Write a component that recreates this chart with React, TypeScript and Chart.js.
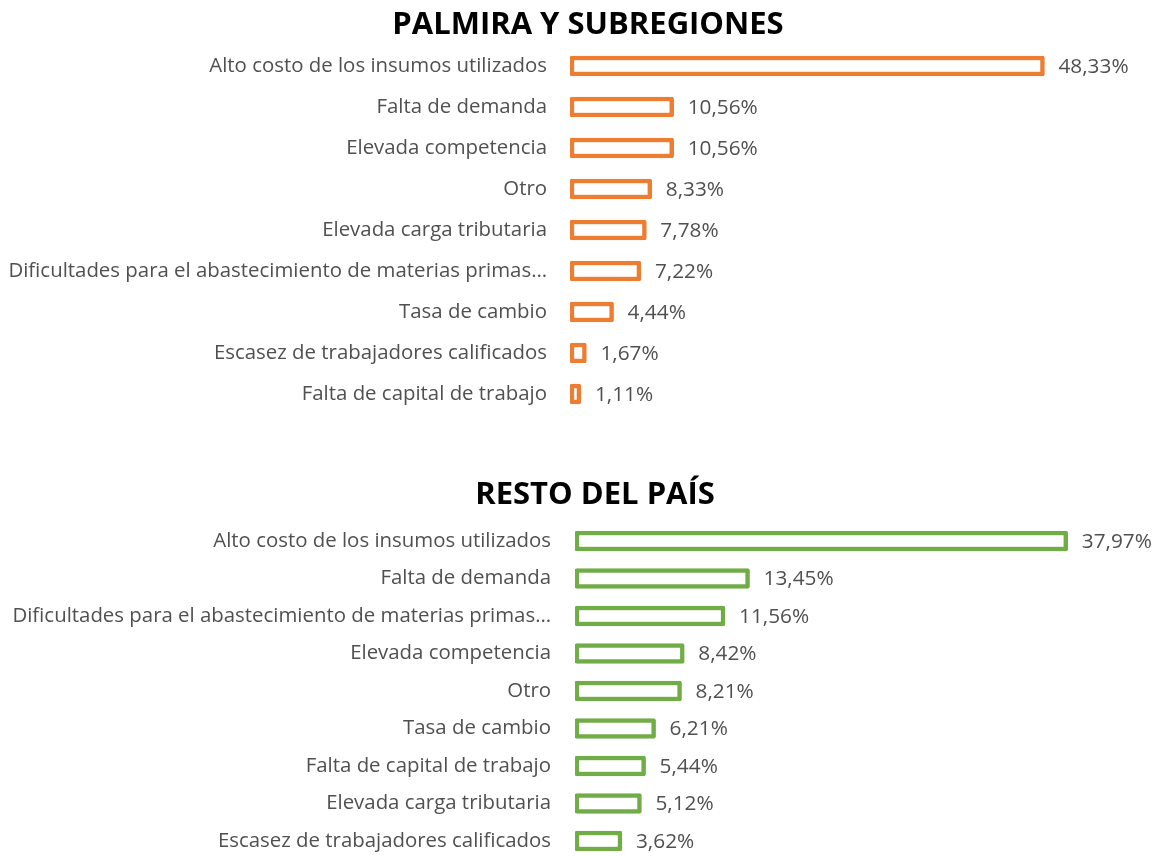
import React, { useEffect, useRef } from "react";
import { Chart, registerables } from "chart.js";

Chart.register(...registerables);

const palmiraTitle = "PALMIRA Y SUBREGIONES";
const palmiraCategories = [
  "Alto costo de los insumos utilizados",
  "Falta de demanda",
  "Elevada competencia",
  "Otro",
  "Elevada carga tributaria",
  "Dificultades para el abastecimiento de materias primas…",
  "Tasa de cambio",
  "Escasez de trabajadores calificados",
  "Falta de capital de trabajo",
];
const palmiraValues = [48.33, 10.56, 10.56, 8.33, 7.78, 7.22, 4.44, 1.67, 1.11];

const restoTitle = "RESTO DEL PAÍS";
const restoCategories = [
  "Alto costo de los insumos utilizados",
  "Falta de demanda",
  "Dificultades para el abastecimiento de materias primas…",
  "Elevada competencia",
  "Otro",
  "Tasa de cambio",
  "Falta de capital de trabajo",
  "Elevada carga tributaria",
  "Escasez de trabajadores calificados",
];
const restoValues = [37.97, 13.45, 11.56, 8.42, 8.21, 6.21, 5.44, 5.12, 3.62];

const FONT = "'Open Sans', sans-serif";
const LABEL_SIZE = 20.4;
const VALUE_SIZE = 20.8;
const TITLE_SIZE = 31;
const TEXT = "#505050";

const fmt = (v: number) => v.toFixed(2).replace(".", ",") + "%";

const labelPlugin = {
  id: "barLabels",
  afterDatasetsDraw(chart: any) {
    const ctx = chart.ctx;
    const meta = chart.getDatasetMeta(0);
    const data = chart.data.datasets[0].data as number[];
    ctx.save();
    ctx.font = `${VALUE_SIZE}px ${FONT}`;
    ctx.fillStyle = TEXT;
    ctx.textAlign = "left";
    ctx.textBaseline = "middle";
    meta.data.forEach((bar: any, i: number) => {
      ctx.fillText(fmt(data[i]), bar.x + 14, bar.y + 1);
    });
    ctx.restore();
  },
};

const titlePlugin = {
  id: "panelTitle",
  afterDraw(chart: any, _args: any, opts: any) {
    const ctx = chart.ctx;
    ctx.save();
    ctx.font = `bold ${TITLE_SIZE}px ${FONT}`;
    ctx.fillStyle = "#000000";
    ctx.textAlign = "center";
    ctx.textBaseline = "alphabetic";
    ctx.fillText(opts.text, opts.x, opts.y);
    ctx.restore();
  },
};

type Props = {
  title: string;
  titleX: number;
  titleBaseline: number;
  categories: string[];
  values: number[];
  color: string;
  xMax: number;
  left: number;
  padTop: number;
  padBottom: number;
  labelPad: number;
  top: number;
  height: number;
};

function Panel(props: Props) {
  const ref = useRef<HTMLCanvasElement | null>(null);
  useEffect(() => {
    if (!ref.current) return;
    const p = props;
    const chart = new Chart(ref.current, {
      type: "bar",
      data: {
        labels: p.categories,
        datasets: [
          {
            data: p.values,
            backgroundColor: "#ffffff",
            borderColor: p.color,
            borderWidth: 4.5,
            borderRadius: 2,
            borderSkipped: false,
            barThickness: 20,
          },
        ],
      },
      options: {
        indexAxis: "y",
        animation: false,
        responsive: false,
        maintainAspectRatio: false,
        layout: { padding: { top: p.padTop, bottom: p.padBottom, left: 0, right: 0 } },
        plugins: {
          legend: { display: false },
          tooltip: { enabled: false },
          title: { display: false },
          panelTitle: { text: p.title, x: p.titleX, y: p.titleBaseline },
        } as any,
        scales: {
          x: { display: false, min: 0, max: p.xMax },
          y: {
            grid: { display: false, drawTicks: true, tickLength: p.labelPad },
            border: { display: false },
            ticks: {
              color: TEXT,
              font: { family: FONT, size: LABEL_SIZE },
              padding: 0,
              autoSkip: false,
            },
            afterFit: (scale: any) => {
              scale.width = p.left;
            },
          },
        },
      },
      plugins: [labelPlugin, titlePlugin],
    });
    return () => chart.destroy();
  }, []);
  return (
    <canvas
      ref={ref}
      width={1159}
      height={props.height}
      style={{ position: "absolute", left: 0, top: props.top, width: 1159, height: props.height }}
    />
  );
}

export default function App() {
  useEffect(() => {
    document.body.style.margin = "0";
  }, []);
  return (
    <div style={{ position: "fixed", left: 0, top: 0, width: 1159, height: 856, overflow: "hidden", background: "#fff" }}>
      <Panel
        top={0}
        height={430}
        title={palmiraTitle}
        titleX={588}
        titleBaseline={33.5}
        categories={palmiraCategories}
        values={palmiraValues}
        color="#ED7D31"
        xMax={60}
        left={570}
        padTop={45.5}
        padBottom={15.5}
        labelPad={23}
      />
      <Panel
        top={470}
        height={406}
        title={restoTitle}
        titleX={595}
        titleBaseline={34}
        categories={restoCategories}
        values={restoValues}
        color="#70AD47"
        xMax={45}
        left={575}
        padTop={52.25}
        padBottom={16.25}
        labelPad={24}
      />
    </div>
  );
}
